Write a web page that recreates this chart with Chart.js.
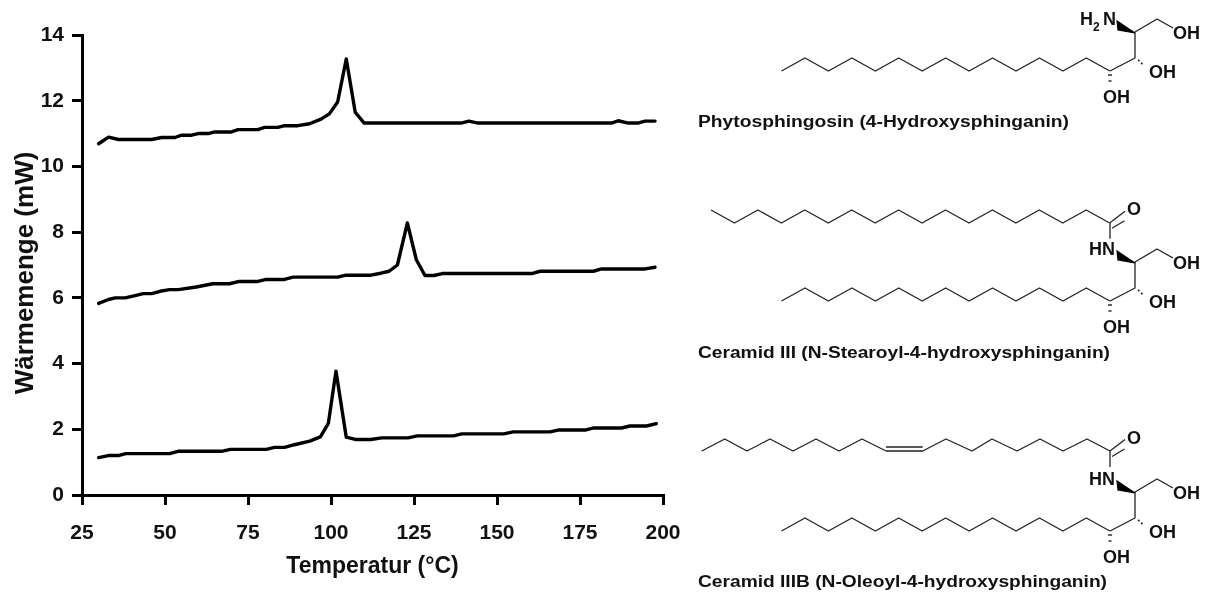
<!DOCTYPE html>
<html lang="de">
<head>
<meta charset="utf-8">
<title>Wärmemenge</title>
<script src="https://cdn.jsdelivr.net/npm/chart.js@4"></script>
<style>
  html, body { margin: 0; padding: 0; background: #fff; }
  #wrap { position: relative; width: 1210px; height: 594px; overflow: hidden; }
  #dsc { position: absolute; left: 0; top: 0; }
  #chem { position: absolute; left: 0; top: 0; }
  #chem text { font-family: "Liberation Sans", Arial, sans-serif; font-weight: bold; fill: #111; }
</style>
</head>
<body>
<div id="wrap">
  <canvas id="dsc" width="1210" height="594"></canvas>
  <svg id="chem" width="1210" height="594" xmlns="http://www.w3.org/2000/svg"></svg>
</div>
<script>
// values
const xTicks = [25, 50, 75, 100, 125, 150, 175, 200];
const yTicks = [0, 2, 4, 6, 8, 10, 12, 14];

const phytoTemp = [30, 33, 36, 46, 49, 53, 55, 58, 60, 63, 65, 70, 72, 78, 80, 84, 86, 90, 93.5, 97, 99.5, 102, 104.6, 107.3, 110, 139.2, 141.5, 144.3, 184.5, 186.5, 189.6, 192.4, 194.6, 197.6];
const phytoHeat = [10.69, 10.89, 10.82, 10.82, 10.88, 10.88, 10.95, 10.95, 11.0, 11.0, 11.05, 11.05, 11.12, 11.12, 11.19, 11.19, 11.24, 11.24, 11.3, 11.44, 11.6, 11.96, 13.27, 11.65, 11.32, 11.32, 11.38, 11.32, 11.32, 11.39, 11.32, 11.32, 11.38, 11.38];

const cer3Temp = [30, 33, 35, 38, 41, 43.4, 46, 48.5, 51.4, 54, 59.4, 64.4, 69.4, 72.4, 78, 80.5, 86, 88.5, 102, 104.5, 112, 115, 117.5, 120, 123, 125.7, 128.3, 131, 133.5, 160.5, 163, 179, 181.5, 194.6, 197.6];
const cer3Heat = [5.83, 5.95, 6.0, 6.0, 6.07, 6.13, 6.13, 6.2, 6.25, 6.25, 6.33, 6.43, 6.43, 6.5, 6.5, 6.56, 6.56, 6.63, 6.63, 6.69, 6.69, 6.75, 6.81, 7.0, 8.28, 7.16, 6.68, 6.68, 6.74, 6.74, 6.81, 6.81, 6.88, 6.88, 6.93];

const cer3bTemp = [30, 32.9, 35.9, 38.2, 51.4, 53.9, 67, 69.7, 80.5, 83, 86, 89, 93.6, 96.8, 99.2, 101.5, 104.6, 107.3, 112, 115.3, 123.2, 126, 136.9, 139.4, 152, 154.9, 166, 168.7, 176.8, 179.2, 187.5, 190, 195, 198];
const cer3bHeat = [1.14, 1.2, 1.2, 1.26, 1.26, 1.33, 1.33, 1.39, 1.39, 1.45, 1.45, 1.53, 1.64, 1.77, 2.18, 3.77, 1.76, 1.69, 1.69, 1.74, 1.74, 1.8, 1.8, 1.86, 1.86, 1.92, 1.92, 1.98, 1.98, 2.04, 2.04, 2.1, 2.1, 2.17];

const toPoints = (xs, ys) => xs.map((x, i) => ({ x: x, y: ys[i] }));

const lineStyle = { borderColor: '#000', borderWidth: 3.4, pointRadius: 0, tension: 0, fill: false, borderCapStyle: 'round', borderJoinStyle: 'round' };
const fontFamily = '"Liberation Sans", Arial, sans-serif';
const tickFont = { family: fontFamily, size: 21, weight: 'bold' };

// the y title in the reference sits a bit below the middle of the axis
const shiftYTitle = {
  id: 'shiftYTitle',
  afterLayout(chart) {
    const s = chart.scales.y;
    if (s._shifted) return;
    const orig = s.drawTitle;
    s.drawTitle = function () {
      this.ctx.save();
      this.ctx.translate(0, 8);
      orig.call(this);
      this.ctx.restore();
    };
    s._shifted = true;
  }
};

new Chart(document.getElementById('dsc').getContext('2d'), {
  type: 'line',
  data: {
    datasets: [
      Object.assign({ label: 'Phytosphingosin', data: toPoints(phytoTemp, phytoHeat) }, lineStyle),
      Object.assign({ label: 'Ceramid III', data: toPoints(cer3Temp, cer3Heat) }, lineStyle),
      Object.assign({ label: 'Ceramid IIIB', data: toPoints(cer3bTemp, cer3bHeat) }, lineStyle)
    ]
  },
  plugins: [shiftYTitle],
  options: {
    responsive: false,
    animation: false,
    layout: { padding: { top: 35, right: 547, left: 0, bottom: 0 } },
    plugins: { legend: { display: false }, tooltip: { enabled: false } },
    scales: {
      x: {
        type: 'linear',
        min: 25,
        max: 200,
        afterFit(scale) { scale.height = 99; },
        afterBuildTicks(scale) { scale.ticks = xTicks.map(v => ({ value: v })); },
        border: { color: '#000', width: 3 },
        grid: { drawOnChartArea: false, color: '#000', lineWidth: 3, tickLength: 10 },
        ticks: { color: '#111', font: tickFont, maxRotation: 0, padding: 16 },
        title: { display: true, text: 'Temperatur (°C)', color: '#111', font: { family: fontFamily, size: 23, weight: 'bold' }, padding: { top: 0, bottom: 14 } }
      },
      y: {
        min: 0,
        max: 14,
        afterFit(scale) { scale.width = 82; },
        afterBuildTicks(scale) { scale.ticks = yTicks.map(v => ({ value: v })); },
        border: { color: '#000', width: 3 },
        grid: { drawOnChartArea: false, color: '#000', lineWidth: 3, tickLength: 10 },
        ticks: { color: '#111', font: tickFont, padding: 8 },
        title: { display: true, text: 'Wärmemenge (mW)', color: '#111', font: { family: fontFamily, size: 26, weight: 'bold' }, padding: { top: 10, bottom: 0 } }
      }
    }
  }
});

// structural formulas next to the plot
const chem = document.getElementById('chem');
const NS = 'http://www.w3.org/2000/svg';

function add(tag, attrs, text) {
  const el = document.createElementNS(NS, tag);
  for (const k in attrs) el.setAttribute(k, attrs[k]);
  if (text) el.textContent = text;
  chem.appendChild(el);
  return el;
}
function bond(points, w) {
  add('polyline', { points: points.map(p => p.join(',')).join(' '), fill: 'none', stroke: '#222', 'stroke-width': w || 1.3, 'stroke-linejoin': 'round' });
}
function label(x, y, text, size, extra) {
  return add('text', Object.assign({ x: x, y: y, 'font-size': size }, extra || {}), text);
}
function zigzag(x0, y0, n, startLow) {
  const pts = [];
  for (let i = 0; i <= n; i++) {
    const low = (i % 2 === 0) === startLow;
    pts.push([x0 + i * 23.45, low ? y0 : y0 - 13]);
  }
  return pts;
}

// backbone shared by all three formulas, dy shifts it down
function backbone(dy, nLabel) {
  bond(zigzag(781.5, 71 + dy, 14, true));
  bond([[1110, 71 + dy], [1135, 58 + dy], [1135, 32 + dy], [1157, 19 + dy], [1173, 28 + dy]]);
  add('polygon', { points: [[1135, 33 + dy], [1117, 21 + dy], [1118, 30 + dy]].map(p => p.join(',')).join(' '), fill: '#000', stroke: '#000', 'stroke-width': 1.2 });
  // hashed bonds
  bond([[1108, 75 + dy], [1112, 75 + dy]], 1.4);
  bond([[1108.5, 81 + dy], [1111.5, 81 + dy]], 1.4);
  bond([[1138, 60 + dy], [1139.5, 61 + dy]], 1.6);
  bond([[1141, 63 + dy], [1142.5, 64 + dy]], 1.6);
  label(1173, 38.5 + dy, 'OH', 18);
  label(1149, 77.5 + dy, 'OH', 18);
  label(1103, 103 + dy, 'OH', 18);
  if (nLabel) label(1089, 25 + dy, nLabel, 18);
}
function carbonyl(y) {
  bond([[1110, y], [1125, y - 11.5]]);
  bond([[1112, y + 5.5], [1124.5, y - 2]]);
  bond([[1110, y], [1110, y + 16]]);
  label(1127, y - 7.5, 'O', 18);
}

// Phytosphingosin
backbone(0, '');
label(1080, 25, 'H', 18);
label(1093, 31, '2', 12);
label(1103, 25, 'N', 18);
label(698, 127, 'Phytosphingosin (4-Hydroxysphinganin)', 16, { textLength: 371, lengthAdjust: 'spacingAndGlyphs' });

// Ceramid III
backbone(230, 'HN');
bond(zigzag(711, 223, 17, false));
carbonyl(222.7);
label(698, 358, 'Ceramid III (N-Stearoyl-4-hydroxysphinganin)', 16, { textLength: 412, lengthAdjust: 'spacingAndGlyphs' });

// Ceramid IIIB
backbone(460, 'HN');
bond([[701.7, 451], [724.7, 439], [747, 451], [770, 439], [793, 451], [816, 439], [839, 451], [862, 439], [886, 451]]);
bond([[886, 451], [922.7, 451], [946, 439], [972, 451], [992, 439], [1017, 451], [1040, 439], [1063, 451], [1087, 439], [1110, 451]]);
bond([[886, 447], [922.7, 447]]);
carbonyl(451);
label(698, 587, 'Ceramid IIIB (N-Oleoyl-4-hydroxysphinganin)', 16, { textLength: 409, lengthAdjust: 'spacingAndGlyphs' });
</script>
</body>
</html>
